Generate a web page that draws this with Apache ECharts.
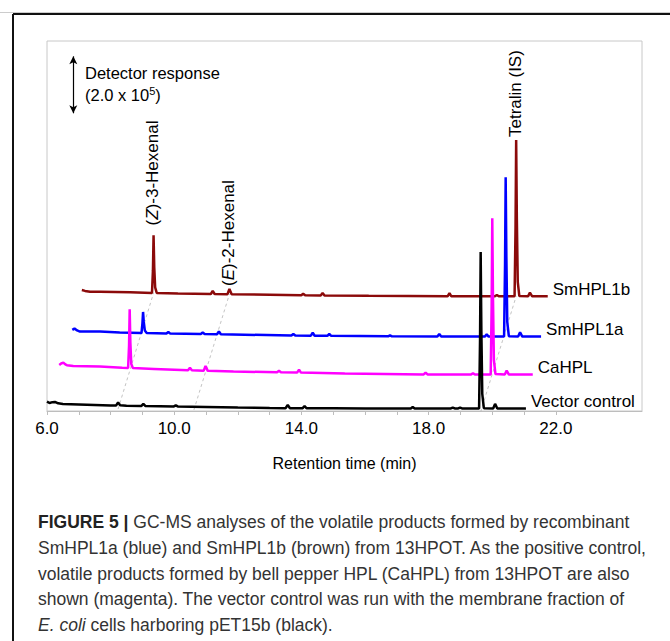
<!DOCTYPE html>
<html>
<head>
<meta charset="utf-8">
<script src="https://cdn.jsdelivr.net/npm/echarts@6/dist/echarts.min.js"></script>
<style>
html, body { margin: 0; padding: 0; background: #fff; }
#chart { width: 670px; height: 641px; }
</style>
</head>
<body>
<div id="chart"></div>
<script>
// chromatograms: [retention time (min), detector response (x10^5)]
var vectorTrace = [
  [6.00,0.33],[6.08,0.28],[6.17,0.31],[6.25,0.32],[6.35,0.27],[6.5,0.25],[7.0,0.23],[7.5,0.21],
  [8.0,0.19],[8.17,0.19],[8.235,0.30],[8.3,0.20],[8.5,0.185],[8.97,0.18],[9.03,0.25],[9.09,0.18],
  [9.99,0.16],[10.05,0.20],[10.11,0.16],[11.0,0.14],[12.0,0.12],[13.0,0.105],[13.5,0.10],[13.57,0.21],
  [13.64,0.10],[14.04,0.10],[14.1,0.175],[14.16,0.095],[15.0,0.095],[16.0,0.088],[17.44,0.088],[17.5,0.14],
  [17.56,0.088],[18.7,0.088],[18.76,0.12],[18.82,0.088],[18.93,0.09],[18.99,0.12],[19.05,0.09],
  [19.587,0.09],[19.617,2.5],[19.637,5.59],[19.659,2.8],[19.687,0.6],[19.737,0.1],
  [20.03,0.09],[20.09,0.25],[20.16,0.09],[20.6,0.088],[21.06,0.088]
];
var caHPLTrace = [
  [6.02,0.42],[6.08,0.47],[6.15,0.50],[6.21,0.44],[6.26,0.41],[6.46,0.38],[7.3,0.36],[8.0,0.32],
  [8.185,0.31],[8.215,1.1],[8.235,2.37],[8.257,1.2],[8.285,0.45],[8.335,0.31],[9.0,0.28],
  [10.07,0.23],[10.13,0.32],[10.19,0.23],[10.56,0.21],[10.62,0.38],[10.69,0.21],[11.5,0.19],
  [12.87,0.16],[12.93,0.21],[12.99,0.16],[13.5,0.15],[13.56,0.255],[13.62,0.15],[15.0,0.12],
  [17.48,0.085],[17.54,0.15],[17.6,0.085],[18.97,0.08],[19.03,0.13],[19.09,0.08],
  [19.587,0.08],[19.617,2.5],[19.637,5.57],[19.659,2.8],[19.687,0.6],[19.737,0.1],
  [20.03,0.08],[20.09,0.22],[20.16,0.08],[20.91,0.08]
];
var smHPL1aTrace = [
  [6.01,0.32],[6.08,0.37],[6.16,0.30],[6.25,0.26],[6.88,0.26],[7.5,0.23],
  [8.185,0.21],[8.215,0.55],[8.235,0.95],[8.257,0.6],[8.29,0.3],[8.35,0.21],
  [8.97,0.193],[9.03,0.246],[9.09,0.19],[10.05,0.176],[10.11,0.228],[10.17,0.175],
  [10.56,0.165],[10.62,0.27],[10.68,0.165],[12.9,0.123],[12.96,0.176],[13.02,0.12],
  [13.51,0.116],[13.57,0.22],[13.63,0.115],[14.03,0.112],[14.09,0.175],[14.15,0.11],
  [15.94,0.095],[16.0,0.13],[16.06,0.095],[17.49,0.088],[17.55,0.176],[17.61,0.088],
  [18.98,0.085],[19.04,0.16],[19.1,0.085],
  [19.587,0.085],[19.617,2.6],[19.637,5.68],[19.659,2.9],[19.687,0.6],[19.737,0.1],
  [20.03,0.085],[20.09,0.235],[20.16,0.085],[20.75,0.085]
];
var smHPL1bTrace = [
  [5.98,0.31],[6.08,0.28],[6.24,0.25],[6.55,0.25],[7.5,0.23],
  [8.185,0.206],[8.215,1.0],[8.235,2.23],[8.257,1.1],[8.285,0.4],[8.335,0.21],[9.0,0.19],
  [10.035,0.171],[10.095,0.277],[10.155,0.17],[10.56,0.164],[10.62,0.347],[10.69,0.164],
  [12.88,0.125],[12.94,0.178],[13.0,0.125],[13.49,0.118],[13.55,0.206],[13.61,0.118],[15.0,0.105],
  [17.48,0.09],[17.54,0.196],[17.6,0.09],[18.97,0.09],[19.03,0.136],[19.09,0.09],
  [19.587,0.09],[19.617,2.5],[19.637,5.58],[19.659,2.8],[19.687,0.6],[19.737,0.1],
  [20.01,0.09],[20.07,0.217],[20.14,0.09],[20.63,0.09]
];

var traceNames = ['Vector control', 'CaHPL', 'SmHPL1a', 'SmHPL1b'];
var traceData = [vectorTrace, caHPLTrace, smHPL1aTrace, smHPL1bTrace];
var traceColors = ['#000000', '#ff00ff', '#0000ff', '#8b0a0a'];
// offset plot: each run is shifted right (min) and up (x10^5)
var shiftTime = [0, 0.365, 0.786, 1.116];
var shiftResp = [0, 1.2, 2.53, 3.94];

// peaks marked with labels and dashed guide lines
var peakNames = ['({i|Z})-3-Hexenal', '({i|E})-2-Hexenal', 'Tetralin (IS)'];
var peakTimes = [8.235, 10.62, 19.637];
var peakLabelGap = [10, 3, 3];

var xTickValues = [6, 7, 8, 9, 10, 11, 12, 13, 14, 15, 16, 17, 18, 19, 20, 21, 22];
var xLabelValues = [6, 10, 14, 18, 22];

var captionLines = [
  '{b|FIGURE 5 |} GC-MS analyses of the volatile products formed by recombinant',
  'SmHPL1a (blue) and SmHPL1b (brown) from 13HPOT. As the positive control,',
  'volatile products formed by bell pepper HPL (CaHPL) from 13HPOT are also',
  'shown (magenta). The vector control was run with the membrane fraction of',
  '{i|E. coli} cells harboring pET15b (black).'
];

var FONT = '"Liberation Sans", Arial, Helvetica, sans-serif';
var chart = echarts.init(document.getElementById('chart'), null, { renderer: 'svg' });

function shifted(i) {
  return traceData[i].map(function (p) {
    return [+(p[0] + shiftTime[i]).toFixed(4), +(p[1] + shiftResp[i]).toFixed(4)];
  });
}
// baseline value just before a peak, taken from the trace points
function baseBefore(i, t) {
  var d = traceData[i], v = d[0][1];
  for (var k = 0; k < d.length; k++) {
    if (d[k][0] <= t - 0.04) v = d[k][1];
  }
  return v;
}
function topNear(i, t) {
  var best = 0;
  traceData[i].forEach(function (p) {
    if (Math.abs(p[0] - t) < 0.03 && p[1] > best) best = p[1];
  });
  return best;
}

var series = [];
// guide lines
peakTimes.forEach(function (t) {
  series.push({
    type: 'line',
    silent: true,
    symbol: 'none',
    z: 1,
    lineStyle: { color: '#b4b4b4', width: 0.8, type: [3, 3] },
    data: [
      [t + shiftTime[0], shiftResp[0] + baseBefore(0, t) - 0.12],
      [t + shiftTime[3], shiftResp[3] + baseBefore(3, t)]
    ]
  });
});
// traces, top one drawn first
for (var i = 3; i >= 0; i--) {
  series.push({
    name: traceNames[i],
    type: 'line',
    symbol: 'none',
    z: 2 + (3 - i),
    lineStyle: { color: traceColors[i], width: 2.5 },
    data: shifted(i),
    endLabel: {
      show: true,
      formatter: '{a}',
      distance: 5,
      offset: [0, -7],
      color: '#000',
      fontSize: 17,
      fontFamily: FONT
    }
  });
}
// scale bar for detector response
series.push({
  type: 'line',
  data: [],
  markLine: {
    silent: true,
    symbol: ['arrow', 'arrow'],
    symbolSize: [6, 8],
    label: { show: false },
    lineStyle: { color: '#000', width: 1.2, type: 'solid' },
    data: [[{ coord: [6.827, 10.46] }, { coord: [6.827, 12.46] }]]
  }
});

chart.setOption({
  animation: false,
  grid: { left: 47, top: 41, right: 28, bottom: 230, show: true, borderColor: '#c8c8c8', borderWidth: 1 },
  xAxis: {
    type: 'value',
    min: 6,
    max: 24.71,
    splitLine: { show: false },
    axisLine: { lineStyle: { color: '#bdbdbd', width: 1 } },
    axisTick: { show: true, length: 4, lineStyle: { color: '#bdbdbd' }, customValues: xTickValues },
    axisLabel: {
      customValues: xLabelValues,
      formatter: function (v) { return v.toFixed(1); },
      color: '#000', fontSize: 17, fontFamily: FONT, margin: 9
    },
    name: 'Retention time (min)',
    nameLocation: 'middle',
    nameGap: 44,
    nameTextStyle: { color: '#000', fontSize: 16, fontFamily: FONT }
  },
  yAxis: { type: 'value', min: 0, max: 13, show: false },
  series: series
});

var graphics = [
  { type: 'line', shape: { x1: 0, y1: 12.5, x2: 670, y2: 12.5 }, style: { stroke: '#cccccc', lineWidth: 1 } },
  { type: 'line', shape: { x1: 13, y1: 14, x2: 670, y2: 14 }, style: { stroke: '#111', lineWidth: 2 } },
  { type: 'line', shape: { x1: 13, y1: 14, x2: 13, y2: 641 }, style: { stroke: '#111', lineWidth: 2 } },
  {
    type: 'text', x: 85, y: 73,
    style: { text: 'Detector response', fontSize: 16.5, fontFamily: FONT, fill: '#000', verticalAlign: 'middle' }
  },
  {
    type: 'text', x: 85, y: 95,
    style: {
      text: '(2.0 x 10{s|5})', fontSize: 16.5, fontFamily: FONT, fill: '#000', verticalAlign: 'middle',
      rich: { s: { fontSize: 11, fontFamily: FONT, fill: '#000', verticalAlign: 'top', lineHeight: 20 } }
    }
  }
];

peakTimes.forEach(function (t, k) {
  var p = chart.convertToPixel({ gridIndex: 0 }, [t + shiftTime[3], topNear(3, t) + shiftResp[3]]);
  graphics.push({
    type: 'text',
    x: p[0] - 1,
    y: p[1] - peakLabelGap[k],
    rotation: Math.PI / 2,
    style: {
      text: peakNames[k], fontSize: 17, fontFamily: FONT, fill: '#000',
      align: 'left', verticalAlign: 'middle',
      rich: { i: { fontStyle: 'italic', fontSize: 17, fontFamily: FONT, fill: '#000' } }
    }
  });
});

captionLines.forEach(function (line, k) {
  graphics.push({
    type: 'text',
    x: 38,
    y: 522 + k * 25.8,
    style: {
      text: line, fontSize: 17.5, fontFamily: FONT, fill: '#333', verticalAlign: 'middle',
      rich: {
        b: { fontWeight: 'bold', fontSize: 17.5, fontFamily: FONT, fill: '#222' },
        i: { fontStyle: 'italic', fontSize: 17.5, fontFamily: FONT, fill: '#333' }
      }
    }
  });
});

chart.setOption({ graphic: graphics });
</script>
</body>
</html>
